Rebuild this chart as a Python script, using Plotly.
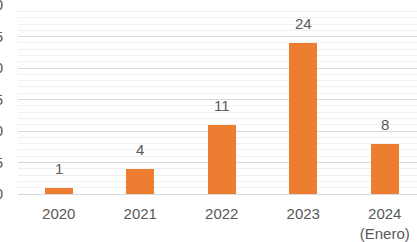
import plotly.graph_objects as go

categories = ["2020", "2021", "2022", "2023", "2024<br>(Enero)"]
values = [1, 4, 11, 24, 8]

FONT = "Liberation Sans, Arial, sans-serif"
fig = go.Figure()
fig.add_trace(go.Bar(
    x=list(range(len(categories))), y=values,
    marker=dict(color="#ED7D31", line=dict(width=0)),
    width=0.34,
))
for i, v in enumerate(values):
    fig.add_annotation(
        x=i, y=v, text=str(v), showarrow=False,
        yanchor="bottom", yshift=9,
        font=dict(size=15, color="#595959", family=FONT),
    )

W, H = 417, 242
left, top_px, bottom_px = 18, 4.7, 194.3
fig.update_layout(
    width=W, height=H,
    margin=dict(l=left, r=0, t=top_px, b=H - bottom_px),
    paper_bgcolor="white", plot_bgcolor="white",
    showlegend=False,
    font=dict(family=FONT, size=15, color="#595959"),
    bargap=0,
)
fig.update_xaxes(
    tickmode="array", tickvals=list(range(len(categories))), ticktext=categories,
    range=[-0.5, -0.5 + (W - left) / 81.5],
    showgrid=False, zeroline=False, showline=False, ticks="",
    tickfont=dict(size=15, color="#595959"),
    ticklabelstandoff=9, automargin=False,
)
fig.update_yaxes(
    range=[0, 30.02], tickvals=[0, 5, 10, 15, 20, 25, 30], showgrid=True,
    gridcolor="#D9D9D9", gridwidth=1,
    minor=dict(dtick=1, showgrid=True, gridcolor="#F0F0F0", gridwidth=1),
    zeroline=True, zerolinecolor="#D9D9D9", zerolinewidth=1,
    showline=False, ticks="",
    tickfont=dict(size=15, color="#595959"),
    ticklabelstandoff=14, automargin=False, ticklabeloverflow="allow",
)
fig.write_html("out.html")
